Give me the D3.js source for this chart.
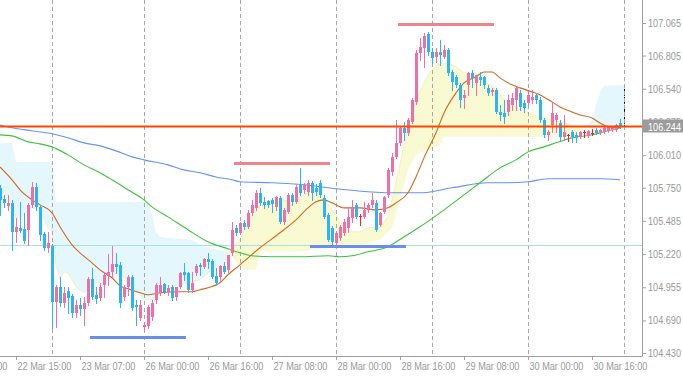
<!DOCTYPE html>
<html><head><meta charset="utf-8">
<script src="https://cdn.jsdelivr.net/npm/d3@7"></script>
<style>html,body{margin:0;padding:0;background:#fff;}svg{display:block;}</style>
</head><body><svg id="c" width="683" height="377"></svg>
<script>
// ---------- DATA (hourly bars, index 0 = 22 Mar 11:00) ----------
const opens = [
105.749,105.661,105.605,105.629,105.398,105.430,105.422,105.414,105.613,105.757,
105.597,105.382,105.270,105.286,104.839,104.959,104.831,104.927,104.887,104.751,
104.815,104.783,104.831,105.023,104.895,104.871,104.975,105.047,105.078,105.142,
105.134,104.879,104.959,105.039,104.815,104.711,104.640,104.648,104.719,104.855,
104.911,104.983,104.919,104.959,104.879,104.959,105.078,105.070,104.935,105.070,
105.134,105.118,105.182,105.166,105.047,105.039,105.126,105.094,105.230,105.430,
105.390,105.469,105.438,105.549,105.589,105.709,105.637,105.645,105.653,105.597,
105.669,105.477,105.557,105.693,105.637,105.773,105.733,105.717,105.789,105.749,
105.789,105.669,105.533,105.430,105.310,105.350,105.390,105.430,105.509,105.613,
105.525,105.517,105.573,105.613,105.629,105.454,105.557,105.693,105.876,105.996,
106.108,106.228,106.188,106.275,106.435,106.826,106.866,106.978,106.834,106.794,
106.834,106.794,106.850,106.674,106.635,106.571,106.467,106.571,106.666,106.587,
106.635,106.635,106.547,106.515,106.531,106.355,106.347,106.355,106.411,106.451,
106.507,106.427,106.427,106.451,106.491,106.451,106.291,106.172,106.252,106.291,
106.267,106.156,106.172,106.196,106.172,106.156,106.196,106.164,106.188,106.212,
106.188,106.196,106.204,106.212,106.212,106.267];
const highs = [
105.773,105.693,105.693,105.653,105.509,105.637,105.549,105.629,105.797,105.789,
105.613,105.398,105.398,105.302,104.975,105.039,104.959,104.959,104.903,104.855,
104.871,104.879,105.039,105.110,104.959,104.991,105.078,105.222,105.286,105.230,
105.158,104.975,105.055,105.055,104.855,104.855,104.679,104.815,104.855,104.991,
105.039,104.991,104.975,104.975,104.959,105.078,105.150,105.078,105.078,105.142,
105.150,105.190,105.230,105.182,105.110,105.134,105.158,105.214,105.477,105.454,
105.477,105.493,105.573,105.653,105.733,105.749,105.677,105.653,105.669,105.685,
105.685,105.589,105.709,105.709,105.773,105.908,105.789,105.813,105.805,105.781,
105.813,105.693,105.549,105.446,105.398,105.454,105.501,105.597,105.653,105.629,
105.541,105.637,105.629,105.709,105.653,105.557,105.685,105.908,106.028,106.291,
106.236,106.275,106.307,106.467,106.850,106.946,106.986,106.994,106.866,106.866,
106.930,106.890,106.866,106.690,106.651,106.587,106.531,106.674,106.690,106.651,
106.674,106.643,106.571,106.547,106.547,106.411,106.451,106.491,106.507,106.555,
106.531,106.451,106.515,106.531,106.507,106.475,106.307,106.212,106.435,106.347,
106.291,106.331,106.180,106.212,106.196,106.204,106.212,106.212,106.220,106.228,
106.220,106.236,106.244,106.236,106.260,106.299];
const lows = [
105.533,105.597,105.573,105.254,105.318,105.398,105.310,105.294,105.597,105.573,
105.334,105.254,105.238,104.632,104.640,104.807,104.799,104.751,104.719,104.719,
104.735,104.655,104.815,104.863,104.831,104.855,104.879,104.975,105.039,105.070,
104.799,104.855,104.895,104.775,104.655,104.695,104.616,104.632,104.695,104.831,
104.895,104.911,104.895,104.855,104.855,104.951,105.015,104.919,104.919,105.055,
105.055,105.110,105.110,105.031,104.975,104.999,105.070,105.078,105.214,105.374,
105.382,105.422,105.430,105.533,105.573,105.613,105.589,105.597,105.557,105.573,
105.469,105.461,105.549,105.613,105.629,105.693,105.709,105.693,105.653,105.693,
105.677,105.509,105.326,105.302,105.294,105.334,105.374,105.398,105.477,105.509,
105.454,105.509,105.557,105.597,105.406,105.446,105.549,105.677,105.852,105.988,
106.092,106.132,106.172,106.267,106.419,106.770,106.714,106.810,106.746,106.754,
106.730,106.786,106.651,106.531,106.555,106.395,106.387,106.491,106.555,106.491,
106.571,106.547,106.491,106.491,106.347,106.291,106.267,106.331,106.371,106.371,
106.371,106.355,106.411,106.427,106.427,106.275,106.156,106.132,106.196,106.196,
106.132,106.132,106.124,106.116,106.116,106.148,106.156,106.156,106.172,106.180,
106.180,106.188,106.196,106.204,106.204,106.228];
const closes = [
105.653,105.629,105.629,105.398,105.438,105.406,105.326,105.613,105.757,105.597,
105.374,105.270,105.310,104.839,104.959,104.831,104.911,104.871,104.751,104.815,
104.783,104.831,105.023,104.879,104.863,104.959,105.055,105.078,105.142,105.118,
104.831,104.959,105.039,104.791,104.799,104.815,104.655,104.799,104.831,104.975,
104.975,104.919,104.951,104.871,104.959,105.070,105.055,104.935,104.991,105.126,
105.118,105.182,105.158,105.039,104.991,105.126,105.078,105.214,105.414,105.390,
105.469,105.438,105.549,105.613,105.709,105.629,105.613,105.613,105.621,105.677,
105.477,105.573,105.693,105.637,105.757,105.709,105.773,105.789,105.709,105.717,
105.693,105.517,105.334,105.318,105.390,105.438,105.477,105.517,105.597,105.517,
105.525,105.573,105.613,105.653,105.414,105.549,105.677,105.892,105.996,106.108,
106.228,106.188,106.291,106.451,106.826,106.874,106.962,106.834,106.786,106.834,
106.810,106.850,106.666,106.595,106.571,106.451,106.491,106.666,106.627,106.651,
106.611,106.571,106.507,106.531,106.355,106.331,106.315,106.451,106.467,106.547,
106.395,106.387,106.491,106.475,106.451,106.291,106.172,106.196,106.347,106.331,
106.156,106.196,106.172,106.156,106.148,106.196,106.196,106.204,106.188,106.188,
106.212,106.228,106.236,106.228,106.252,106.244];

// Ichimoku cloud spans (bar index, price)
const spanAIdx = [0,2,3,4,5,8,10,12,13,14,15,16,17,19,21,22,24,26,28,29,31,32,34,36,38,40,43,47,50,53,56,57,58,60,62,64,67,72,74,77,80,83,86,88,90,92,95,97,98,100,102,104,107,109,112,114,116,119,121,124,126,130,135,138,141,144,147,156];
const spanAVals = [105.709,105.685,105.613,105.509,105.509,105.597,105.557,105.430,105.398,105.134,105.031,105.078,105.070,104.959,104.911,104.935,104.991,104.991,105.039,105.070,105.039,104.991,104.935,104.855,104.855,104.911,104.959,104.991,105.015,105.094,105.134,105.190,105.278,105.334,105.469,105.597,105.613,105.653,105.653,105.709,105.709,105.573,105.438,105.398,105.398,105.430,105.430,105.517,105.653,105.932,106.252,106.451,106.651,106.730,106.746,106.714,106.666,106.666,106.611,106.531,106.451,106.371,106.315,106.291,106.267,106.236,106.228,106.228];
const spanBIdx = [0,3,4,13,14,37,38,39,40,42,48,50,52,57,59,61,64,65,75,82,90,95,98,100,102,104,107,110,111,142,144,146,148,149,150,151,156];
const spanBVals = [106.108,106.108,105.956,105.956,105.637,105.637,105.533,105.398,105.358,105.350,105.334,105.294,105.270,105.238,105.158,105.094,105.094,105.238,105.238,105.270,105.286,105.334,105.430,105.653,105.892,106.012,106.052,106.092,106.156,106.156,106.180,106.228,106.291,106.411,106.515,106.563,106.571];

// Moving averages (bar index, price)
const maFastIdx = [0,3,5,8,10,13,15,18,20,23,25,28,30,32,35,37,40,45,48,50,52,55,57,60,62,65,70,74,77,79,81,83,86,90,94,97,99,102,104,106,109,111,114,116,119,121,123,125,128,130,133,135,138,140,143,145,148,150,152,155];
const maFastVals = [105.916,105.813,105.733,105.653,105.613,105.549,105.438,105.294,105.230,105.150,105.094,105.031,104.967,104.943,104.911,104.895,104.911,104.919,104.919,104.935,104.951,104.991,105.055,105.134,105.190,105.270,105.390,105.493,105.589,105.637,105.653,105.629,105.589,105.589,105.573,105.589,105.629,105.709,105.836,105.988,106.188,106.347,106.507,106.587,106.635,106.674,106.674,106.627,106.571,106.547,106.515,106.491,106.435,106.395,106.355,106.331,106.307,106.267,106.236,106.228];
const maMidIdx = [0,3,7,10,13,17,21,25,28,32,36,38,42,47,52,57,60,63,68,75,82,85,88,92,97,101,105,110,115,120,125,129,132,136,139,143,148,151,155];
const maMidVals = [106.172,106.164,106.116,106.100,106.076,106.012,105.932,105.869,105.813,105.733,105.653,105.597,105.517,105.414,105.318,105.262,105.230,105.206,105.198,105.198,105.206,105.198,105.206,105.238,105.278,105.358,105.438,105.549,105.669,105.789,105.908,105.972,106.036,106.076,106.108,106.148,106.172,106.196,106.228];
const maSlowIdx = [0,3,8,13,17,21,25,29,33,36,42,46,50,54,58,60,68,76,84,92,97,105,113,122,127,132,137,150,155];
const maSlowVals = [106.251,106.228,106.204,106.180,106.148,106.108,106.084,106.044,105.996,105.972,105.932,105.892,105.869,105.836,105.813,105.797,105.789,105.773,105.741,105.717,105.709,105.709,105.749,105.789,105.789,105.797,105.821,105.821,105.813];

// Horizontal levels
const bidPrice = 106.244;
const supportLine = 105.290;
const segPrices = [107.054, 105.944, 104.560, 105.282];
const segStart = [100, 59, 23, 78];
const segEnd = [123, 82, 46, 101];
const segKinds = ['high', 'high', 'low', 'low'];

// Axis ticks
const priceTicks = [107.065,106.805,106.540,106.275,106.010,105.750,105.485,105.220,104.955,104.690,104.430];
const daySepBars = [13,36,60,84,108,132,156];
const xLabelBars = [-12,4,20,36,52,68,84,100,116,132,148];
const xLabels = ['21 Mar 23:00','22 Mar 15:00','23 Mar 07:00','26 Mar 00:00','26 Mar 16:00','27 Mar 08:00','28 Mar 00:00','28 Mar 16:00','29 Mar 08:00','30 Mar 00:00','30 Mar 16:00'];

// ---------- STYLE ----------
const FONT = '"Liberation Sans",Arial,sans-serif';
const NARROW = 0.83; // condensed look of the original terminal font
const AXIS = '#a0a0a0', TEXT = '#999999';
const BULL = '#f06eaa', BEAR = '#2bb5f2', DOJI = '#ff1f1f';
const plotR = 642, plotB = 356;

const svg = d3.select('#c');
svg.append('rect').attr('width',683).attr('height',377).attr('fill','#fff');

const x = d3.scaleLinear().domain([0, 160.5]).range([0, plotR]);
const y = d3.scaleLinear().domain([104.430, 107.065]).range([353, 23]);

svg.append('clipPath').attr('id','plot').append('rect').attr('x',0).attr('y',0).attr('width',plotR).attr('height',plotB);
const g = svg.append('g').attr('clip-path','url(#plot)');

// ---- cloud ----
const ptsA = spanAIdx.map((k,j)=>[x(k), y(spanAVals[j])]);
const ptsB = spanBIdx.map((k,j)=>[x(k), y(spanBVals[j])]);
const pl = p => p.map(q=>q[0].toFixed(2)+','+q[1].toFixed(2)).join('L');
const cloudPoly = 'M'+pl(ptsA)+'L'+pl(ptsB.slice().reverse())+'Z';
const x0 = ptsB[0][0], x1 = ptsB[ptsB.length-1][0];
svg.append('clipPath').attr('id','aboveB').append('path').attr('d','M'+pl(ptsB)+`L${x1},-20L${x0},-20Z`);
svg.append('clipPath').attr('id','belowB').append('path').attr('d','M'+pl(ptsB)+`L${x1},420L${x0},420Z`);
g.append('path').attr('d',cloudPoly).attr('fill','#fafad2').attr('clip-path','url(#aboveB)');
g.append('path').attr('d',cloudPoly).attr('fill','#e3f7fc').attr('clip-path','url(#belowB)');
g.append('path').attr('d','M'+pl(ptsA)).attr('fill','none').attr('stroke','#f4f0bc').attr('stroke-width',1);
g.append('line').attr('x1',x1+0.5).attr('x2',x1+0.5)
  .attr('y1',ptsB[ptsB.length-1][1]).attr('y2',ptsA[ptsA.length-1][1])
  .attr('stroke','#111').attr('stroke-dasharray','3,1');

// ---- day separators ----
g.selectAll('line.sep').data(daySepBars).join('line')
  .attr('x1',d=>Math.round(x(d))+0.5).attr('x2',d=>Math.round(x(d))+0.5)
  .attr('y1',0).attr('y2',plotB)
  .attr('stroke','#a8a8a8').attr('stroke-dasharray','4,3');

// ---- support line ----
g.append('line').attr('x1',0).attr('x2',plotR)
  .attr('y1',Math.round(y(supportLine))+0.5).attr('y2',Math.round(y(supportLine))+0.5)
  .attr('stroke','#a6e3e3').attr('stroke-width',1);

// ---- moving averages ----
const maLine = d3.line().x(d=>x(d[0])).y(d=>y(d[1])).curve(d3.curveMonotoneX);
[[maSlowIdx,maSlowVals,'#6495ed'],[maMidIdx,maMidVals,'#3ac43a'],[maFastIdx,maFastVals,'#d2691e']].forEach(([ix,vs,c])=>{
  g.append('path').datum(ix.map((k,j)=>[k,vs[j]])).attr('d',maLine)
    .attr('fill','none').attr('stroke',c).attr('stroke-width',1.1);
});

// ---- level segments ----
const segs = segPrices.map((p,i)=>({p, s:segStart[i], e:segEnd[i], k:segKinds[i]}));
g.selectAll('line.seg').data(segs).join('line')
  .attr('x1',d=>x(d.s)-2).attr('x2',d=>x(d.e)+2)
  .attr('y1',d=>Math.round(y(d.p))+0.5).attr('y2',d=>Math.round(y(d.p))+0.5)
  .attr('stroke',d=>d.k==='high'?'#f0848c':'#6a8fe6').attr('stroke-width',3);

// ---- candles ----
const bars = opens.map((o,i)=>({i,o,h:highs[i],l:lows[i],c:closes[i]}));
const col = d => d.c > d.o ? BULL : (d.c < d.o ? BEAR : DOJI);
const cg = g.append('g').attr('shape-rendering','crispEdges');
cg.selectAll('rect.wick').data(bars).join('rect')
  .attr('x',d=>Math.round(x(d.i))).attr('width',1)
  .attr('y',d=>Math.round(y(d.h)))
  .attr('height',d=>Math.max(1,Math.round(y(d.l))-Math.round(y(d.h))+1))
  .attr('fill',col);
cg.selectAll('rect.body').data(bars).join('rect')
  .attr('x',d=>Math.round(x(d.i))-1).attr('width',3)
  .attr('y',d=>Math.round(y(Math.max(d.o,d.c))))
  .attr('height',d=>Math.max(1,Math.round(y(Math.min(d.o,d.c)))-Math.round(y(Math.max(d.o,d.c)))))
  .attr('fill',col);

// ---- bid line ----
g.append('line').attr('x1',0).attr('x2',plotR)
  .attr('y1',Math.round(y(bidPrice))+0.5).attr('y2',Math.round(y(bidPrice))+0.5)
  .attr('stroke','#ff4500').attr('stroke-width',2);

// ---- axes ----
const ax = svg.append('g').attr('font-family',FONT);
const yAxis = d3.axisRight(y).tickValues(priceTicks).tickFormat(d3.format('.3f')).tickSize(4).tickSizeOuter(0).tickPadding(2);
const ya = ax.append('g').attr('transform',`translate(${plotR},0)`).call(yAxis);
const xAxis = d3.axisBottom(x).tickValues(xLabelBars).tickFormat((d,i)=>xLabels[i]).tickSize(4).tickSizeOuter(0);
const xa = ax.append('g').attr('transform',`translate(0,${plotB})`).call(xAxis);
[ya,xa].forEach(a=>{
  a.select('.domain').remove();
  a.selectAll('line').attr('stroke',AXIS);
  a.selectAll('text').attr('fill',TEXT).attr('font-size',11).attr('font-family',FONT);
});
xa.selectAll('text').attr('text-anchor','start').attr('x',1).attr('dy',0).attr('y',13.5);
ax.append('line').attr('x1',plotR+0.5).attr('x2',plotR+0.5).attr('y1',0).attr('y2',plotB+0.5).attr('stroke',AXIS);
ax.append('line').attr('x1',0).attr('x2',plotR+0.5).attr('y1',plotB+0.5).attr('y2',plotB+0.5).attr('stroke',AXIS);

// ---- bid label ----
const by = Math.round(y(bidPrice))+0.5;
ax.append('rect').attr('x',plotR+1).attr('y',by-7).attr('width',683-plotR-1).attr('height',13).attr('fill','#9c9c9c');
ax.append('text').attr('x',plotR+6).attr('y',by+4).attr('fill','#fff').attr('font-size',11)
  .attr('font-family',FONT).text(d3.format('.3f')(bidPrice));

// condense all axis texts
ax.selectAll('text').each(function(){
  const w = this.getComputedTextLength();
  d3.select(this).attr('textLength', (w*NARROW).toFixed(1)).attr('lengthAdjust','spacingAndGlyphs');
});
</script></body></html>
